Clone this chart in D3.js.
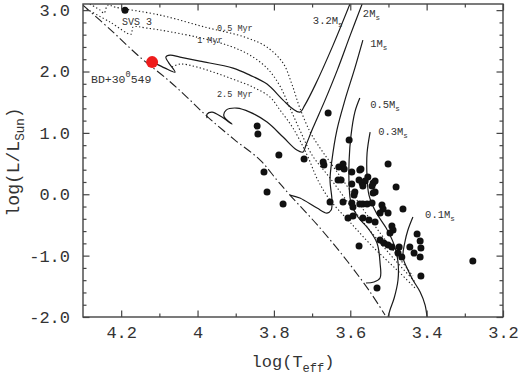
<!DOCTYPE html>
<html>
<head>
<meta charset="utf-8">
<script src="https://cdn.jsdelivr.net/npm/d3@7"></script>
<style>
body { margin: 0; background: #fff; }
svg text { font-family: "Liberation Mono", "Courier New", monospace; fill: #333; }
</style>
</head>
<body>
<svg id="chart" width="520" height="375"></svg>
<script>
// tick values
var xTicks = [4.2, 4.0, 3.8, 3.6, 3.4, 3.2];
var xMinor = [4.1, 3.9, 3.7, 3.5, 3.3];
var yTicks = [-2, -1, 0, 1, 2, 3];
var yMinor = [-1.8, -1.6, -1.4, -1.2, -0.8, -0.6, -0.4, -0.2, 0.2, 0.4, 0.6, 0.8,
              1.2, 1.4, 1.6, 1.8, 2.2, 2.4, 2.6, 2.8];

// observed stars [logTeff, logL]
var stars = [
  [4.190, 3.000], [3.844, 1.111], [3.842, 0.980], [3.787, 0.638], [3.826, 0.362],
  [3.658, 1.322], [3.603, 0.883], [3.721, 0.573], [3.671, 0.524], [3.669, 0.476],
  [3.630, 0.443], [3.619, 0.492], [3.616, 0.410], [3.596, 0.362], [3.572, 0.410],
  [3.554, 0.280], [3.501, 0.492], [3.632, 0.231], [3.624, 0.231], [3.596, 0.166],
  [3.577, 0.231], [3.569, 0.182], [3.561, 0.215], [3.540, 0.182], [3.535, 0.215],
  [3.480, 0.117], [3.567, 0.134], [3.543, 0.134], [3.818, 0.036], [3.776, -0.160],
  [3.653, -0.127], [3.619, -0.127], [3.596, -0.143], [3.593, -0.209], [3.567, -0.160],
  [3.556, -0.160], [3.543, -0.143], [3.535, 0.036], [3.588, 0.036], [3.517, -0.176],
  [3.514, -0.241], [3.522, -0.306], [3.501, -0.306], [3.462, -0.241], [3.606, -0.388],
  [3.593, -0.355], [3.567, -0.388], [3.551, -0.420], [3.535, -0.453], [3.491, -0.518],
  [3.488, -0.583], [3.496, -0.632], [3.522, -0.746], [3.512, -0.795], [3.501, -0.827],
  [3.491, -0.860], [3.577, -0.844], [3.472, -0.860], [3.475, -0.958], [3.465, -1.023],
  [3.444, -0.860], [3.425, -0.648], [3.417, -0.762], [3.415, -0.876], [3.433, -0.958],
  [3.417, -1.023], [3.530, -1.528], [3.415, -1.332], [3.279, -1.088], [3.540, 0.019],
  [3.575, 0.394], [3.590, -0.013], [3.575, -0.160]
];
var bdStar = [4.119, 2.153];

// zero age main sequence (dash-dot)
var zams = [
  [4.300, 3.081], [4.224, 2.658], [4.151, 2.235], [4.080, 1.876], [4.028, 1.583],
  [3.973, 1.257], [3.902, 0.883], [3.836, 0.557], [3.792, 0.231], [3.758, -0.013],
  [3.679, -0.551], [3.606, -1.104], [3.548, -1.593], [3.509, -1.967]
];

// isochrones (dotted)
var iso05 = [
  [4.282, 3.098], [4.255, 3.000], [4.245, 2.951], [4.235, 3.081], [4.216, 3.049],
  [4.098, 2.919], [3.980, 2.723], [3.876, 2.560], [3.818, 2.397], [3.776, 2.137],
  [3.753, 1.795], [3.732, 1.404], [3.705, 1.013], [3.679, 0.752], [3.653, 0.524],
  [3.601, 0.068], [3.543, -0.453], [3.488, -0.909], [3.436, -1.332]
];
var iso1 = [
  [4.290, 3.016], [4.229, 2.805], [4.174, 2.609], [4.169, 2.723], [4.132, 2.707],
  [4.001, 2.560], [3.915, 2.414], [3.863, 2.267], [3.818, 2.055], [3.784, 1.762],
  [3.758, 1.404], [3.732, 1.046], [3.700, 0.638], [3.653, 0.264], [3.601, -0.176],
  [3.543, -0.632], [3.483, -1.072], [3.430, -1.430]
];
var iso25 = [
  [4.067, 2.072], [4.046, 2.121], [4.001, 2.072], [3.915, 1.893], [3.855, 1.746],
  [3.810, 1.583], [3.784, 1.371], [3.750, 1.078], [3.713, 0.638], [3.685, 0.231],
  [3.653, -0.095], [3.601, -0.453], [3.543, -0.844], [3.483, -1.202], [3.430, -1.528]
];

// evolutionary tracks (solid)
var track32 = [
  [3.601, 3.098], [3.645, 2.430], [3.692, 1.778], [3.719, 1.453], [3.732, 1.339],
  [3.750, 1.388], [3.776, 1.534], [3.818, 1.795], [3.863, 1.941], [3.907, 2.055],
  [3.994, 2.169], [4.046, 2.235], [4.072, 2.267], [4.083, 2.235], [4.075, 2.137],
  [4.059, 1.990], [4.085, 2.055], [4.111, 2.137]
];
var track2 = [
  [3.569, 3.098], [3.600, 2.593], [3.634, 2.023], [3.666, 1.534], [3.698, 1.078],
  [3.716, 0.801], [3.724, 0.687], [3.740, 0.720], [3.776, 0.932], [3.818, 1.176],
  [3.863, 1.339], [3.897, 1.404], [3.925, 1.371], [3.931, 1.274], [3.910, 1.143],
  [3.936, 1.257], [3.962, 1.339], [3.975, 1.306], [3.975, 1.241]
];
var track1 = [
  [3.567, 2.511], [3.588, 2.055], [3.614, 1.534], [3.635, 1.046], [3.648, 0.557],
  [3.653, 0.231], [3.648, -0.095], [3.650, -0.257], [3.661, -0.306], [3.687, -0.225],
  [3.732, -0.062], [3.758, -0.013]
];
var track05 = [
  [3.575, 1.567], [3.588, 1.339], [3.598, 0.964], [3.603, 0.557], [3.603, 0.150],
  [3.598, -0.143], [3.580, -0.371], [3.554, -0.551], [3.530, -0.795], [3.522, -1.121],
  [3.522, -1.365], [3.538, -1.430], [3.559, -1.446]
];
var track03 = [
  [3.548, 1.013], [3.556, 0.671], [3.556, 0.280], [3.551, -0.013], [3.533, -0.290],
  [3.506, -0.551], [3.485, -0.827], [3.475, -1.104], [3.475, -1.397], [3.485, -1.690],
  [3.496, -1.886], [3.501, -2.000]
];
var track01 = [
  [3.436, -0.371], [3.449, -0.583], [3.457, -0.779], [3.462, -1.023], [3.449, -1.235],
  [3.436, -1.397], [3.417, -1.593], [3.404, -1.805], [3.399, -2.000]
];

var massNames = ["3.2", "2", "1", "0.5", "0.3", "0.1"];
var isoNames = ["0.5 Myr", "1 Myr", "2.5 Myr"];

var svg = d3.select("#chart");
var pLeft = 83, pRight = 503, pTop = 4, pBottom = 317;

var x = d3.scaleLinear().domain([4.3, 3.2]).range([pLeft, pRight]);
var y = d3.scaleLinear().domain([-2, 3.1]).range([pBottom, pTop]);

svg.append("clipPath").attr("id", "clip")
  .append("rect").attr("x", pLeft).attr("y", pTop)
  .attr("width", pRight - pLeft).attr("height", pBottom - pTop);

var plot = svg.append("g").attr("clip-path", "url(#clip)");

var line = d3.line()
  .x(function (d) { return x(d[0]); })
  .y(function (d) { return y(d[1]); })
  .curve(d3.curveCatmullRom.alpha(0.5));

// ZAMS
plot.append("path").datum(zams)
  .attr("d", line).attr("fill", "none")
  .attr("stroke", "#222").attr("stroke-width", 1.1)
  .attr("stroke-dasharray", "9,3,1.5,3");

// isochrones
[iso05, iso1, iso25].forEach(function (iso) {
  plot.append("path").datum(iso)
    .attr("d", line).attr("fill", "none")
    .attr("stroke", "#222").attr("stroke-width", 1.1)
    .attr("stroke-dasharray", "1.3,2.3");
});

// tracks
[track32, track2, track1, track05, track03, track01].forEach(function (t) {
  plot.append("path").datum(t)
    .attr("d", line).attr("fill", "none")
    .attr("stroke", "#1a1a1a").attr("stroke-width", 1.2);
});

// stars
plot.selectAll("circle.star")
  .data(stars)
  .enter()
  .append("circle")
  .attr("class", "star")
  .attr("cx", function (d) { return x(d[0]); })
  .attr("cy", function (d) { return y(d[1]); })
  .attr("r", 3.5)
  .attr("fill", "#111");

plot.append("circle")
  .attr("cx", x(bdStar[0])).attr("cy", y(bdStar[1]))
  .attr("r", 6).attr("fill", "#ee1c1c");

// frame
svg.append("rect")
  .attr("x", pLeft).attr("y", pTop)
  .attr("width", pRight - pLeft).attr("height", pBottom - pTop)
  .attr("fill", "none").attr("stroke", "#444").attr("stroke-width", 1.4);

// axes, ticks pointing inwards
function fmtX(d) { return d === 4 ? "4" : d.toFixed(1); }

svg.append("g").attr("transform", "translate(0," + pBottom + ")")
  .call(d3.axisBottom(x).tickValues(xTicks).tickSize(-6.5).tickPadding(9).tickFormat(fmtX));
svg.append("g").attr("transform", "translate(0," + pBottom + ")")
  .call(d3.axisBottom(x).tickValues(xMinor).tickSize(-3.5).tickFormat(""));
svg.append("g").attr("transform", "translate(0," + pTop + ")")
  .call(d3.axisTop(x).tickValues(xTicks).tickSize(-6.5).tickFormat(""));
svg.append("g").attr("transform", "translate(0," + pTop + ")")
  .call(d3.axisTop(x).tickValues(xMinor).tickSize(-3.5).tickFormat(""));

svg.append("g").attr("transform", "translate(" + pLeft + ",0)")
  .call(d3.axisLeft(y).tickValues(yTicks).tickSize(-6.5).tickPadding(13)
    .tickFormat(function (d) { return d.toFixed(1); }));
svg.append("g").attr("transform", "translate(" + pLeft + ",0)")
  .call(d3.axisLeft(y).tickValues(yMinor).tickSize(-3.5).tickFormat(""));
svg.append("g").attr("transform", "translate(" + pRight + ",0)")
  .call(d3.axisRight(y).tickValues(yTicks).tickSize(-6.5).tickFormat(""));
svg.append("g").attr("transform", "translate(" + pRight + ",0)")
  .call(d3.axisRight(y).tickValues(yMinor).tickSize(-3.5).tickFormat(""));

svg.selectAll(".domain").remove();
svg.selectAll(".tick line").attr("stroke", "#444").attr("stroke-width", 1.2);
svg.selectAll(".tick text")
  .style("font-family", "'Liberation Mono', 'Courier New', monospace")
  .attr("font-size", 17).attr("fill", "#333");

// axis titles
var xt = svg.append("text").attr("x", 293).attr("y", 367)
  .attr("text-anchor", "middle").attr("font-size", 17);
xt.append("tspan").text("log(T");
xt.append("tspan").attr("font-size", 12).attr("dy", 5).text("eff");
xt.append("tspan").attr("dy", -5).text(")");

var yt = svg.append("text")
  .attr("transform", "translate(19,162) rotate(-90)")
  .attr("text-anchor", "middle").attr("font-size", 18);
yt.append("tspan").text("log(L/L");
yt.append("tspan").attr("font-size", 12.5).attr("dy", 5).text("Sun");
yt.append("tspan").attr("dy", -5).text(")");

// mass labels on the tracks
var massPos = [[3.698, 2.772], [3.567, 2.886], [3.548, 2.397], [3.548, 1.404], [3.527, 0.964], [3.404, -0.388]];
massNames.forEach(function (m, i) {
  var t = svg.append("text")
    .attr("x", x(massPos[i][0])).attr("y", y(massPos[i][1]))
    .attr("font-size", 10.5);
  t.append("tspan").text(m + "M");
  t.append("tspan").attr("font-size", 7.5).attr("dy", 3).text("s");
});

// isochrone labels
var isoPos = [[3.949, 2.658], [4.001, 2.463], [3.949, 1.583]];
isoNames.forEach(function (n, i) {
  svg.append("text")
    .attr("x", x(isoPos[i][0])).attr("y", y(isoPos[i][1]))
    .attr("font-size", 8.5).attr("fill", "#333")
    .text(n);
});

// star names
svg.append("text").attr("x", x(4.198)).attr("y", y(2.756))
  .attr("font-size", 10).text("SVS 3");
var bd = svg.append("text").attr("x", x(4.279)).attr("y", y(1.811)).attr("font-size", 11.5);
bd.append("tspan").text("BD+30");
bd.append("tspan").attr("font-size", 8.5).attr("dy", -6).text("0");
bd.append("tspan").attr("dy", 6).text("549");
</script>
</body>
</html>
